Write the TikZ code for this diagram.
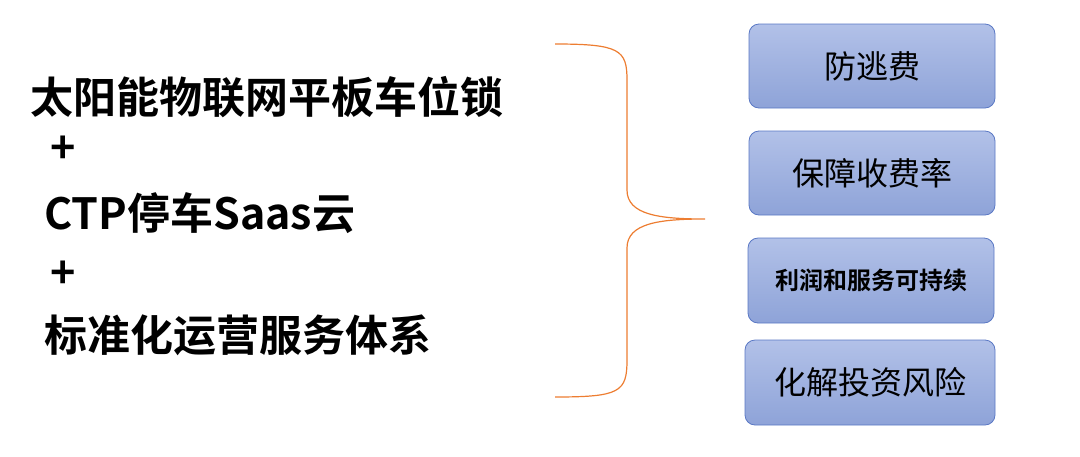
\documentclass[tikz,border=0pt]{standalone}
\usepackage{fontspec}
\setmainfont{Noto Sans CJK SC}
\newfontfamily\cjkb{Noto Sans CJK SC Bold}
\begin{document}
\begin{tikzpicture}[x=1pt,y=-1pt,
  lbl/.style={anchor=west,inner sep=0pt,font=\cjkb\fontsize{43}{48}\selectfont},
  box/.style={line width=0.8pt,rounded corners=10pt,top color={rgb,255:red,178;green,193;blue,232},bottom color={rgb,255:red,142;green,163;blue,216},draw={rgb,255:red,90;green,120;blue,196},font=\fontsize{32}{36}\selectfont,inner sep=0pt}]
\useasboundingbox (0,0) rectangle (1080,456);
\node[lbl] (t1) at (30,97) {太阳能物联网平板车位锁};
\node[lbl] (p1) at (50,150) {+};
\node[lbl] (t2) at (44,213) {CTP停车Saas云};
\node[lbl] (p2) at (50,275) {+};
\node[lbl] (t3) at (44,335) {标准化运营服务体系};
\draw[color={rgb,255:red,237;green,125;blue,49},line width=1.2pt]
 (555,44) .. controls (620,44) and (627,50) .. (627,80) -- (627,190)
 .. controls (627,215) and (660,219) .. (705,219)
 .. controls (660,219) and (627,223) .. (627,248) -- (627,360)
 .. controls (627,392) and (620,397) .. (555,397);
\node[box,minimum width=246pt,minimum height=84pt] (b1) at (872,66) {防逃费};
\node[box,minimum width=246pt,minimum height=84pt] (b2) at (872,173) {保障收费率};
\node[box,minimum width=246pt,minimum height=85pt,font=\cjkb\fontsize{24}{28}\selectfont] (b3) at (871,280.5) {利润和服务可持续};
\node[box,minimum width=250pt,minimum height=85pt] (b4) at (870,382.5) {化解投资风险};
\end{tikzpicture}
\end{document}
